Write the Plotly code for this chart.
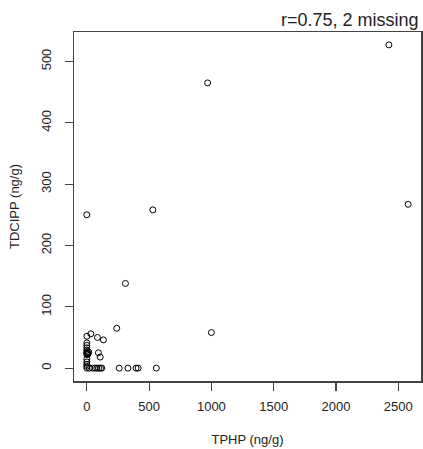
import plotly.graph_objects as go

# TPHP (x) and TDCIPP (y), ng/g
tphp = [2425, 970, 2580, 0, 530, 310, 1000, 240,
        0, 32, 85, 133,
        0, 0, 0, 0, 0, 0, 0, 5, 10, 15,
        93, 107,
        0, 0, 0, 0,
        0, 20, 45, 65, 80, 95, 110, 120,
        260, 330, 395, 412, 558]
tdcipp = [527, 465, 267, 250, 258, 138, 58, 65,
          52, 56, 50, 46,
          41, 37, 33, 29, 26, 24, 22, 25, 23, 26,
          25, 18,
          15, 10, 6, 3,
          0, 0, 0, 0, 0, 0, 0, 0,
          0, 0, 0, 0, 0]

x_ticks = [0, 500, 1000, 1500, 2000, 2500]
y_ticks = [0, 100, 200, 300, 400, 500]
note = "r=0.75, 2 missing"

font_family = "Liberation Sans, Arial, sans-serif"
txt = "#222222"

fig = go.Figure()
fig.add_trace(go.Scatter(
    x=tphp, y=tdcipp, mode="markers",
    marker=dict(symbol="circle-open", size=6, color="black", line=dict(width=1.0, color="black")),
    showlegend=False, hoverinfo="skip"))

fig.update_layout(
    width=423, height=449,
    margin=dict(l=74, r=2, t=32, b=68),
    paper_bgcolor="white", plot_bgcolor="white",
    font=dict(family=font_family, size=13, color=txt),
    xaxis=dict(range=[-103, 2683], tickvals=x_ticks, ticktext=[str(v) for v in x_ticks],
               showgrid=False, zeroline=False, showline=True, mirror=True,
               linecolor="#444444", linewidth=1.5, automargin=False,
               ticks="outside", ticklen=8, tickwidth=1.2, tickcolor="#444444",
               ticklabelstandoff=5,
               tickfont=dict(size=13, color=txt),
               title=dict(text="TPHP (ng/g)", font=dict(size=13, color=txt), standoff=22)),
    yaxis=dict(range=[-21, 548], tickvals=y_ticks, ticktext=[str(v) for v in y_ticks],
               showgrid=False, zeroline=False, showline=True, mirror=True,
               linecolor="#444444", linewidth=1.5, automargin=False,
               ticks="outside", ticklen=8, tickwidth=1.2, tickcolor="#444444",
               tickangle=-90, ticklabelstandoff=8,
               tickfont=dict(size=13, color=txt),
               title=dict(text="TDCIPP (ng/g)", font=dict(size=13, color=txt), standoff=16)),
    annotations=[dict(text=note, xref="paper", yref="paper", x=1.0, y=1.0,
                      xanchor="right", yanchor="bottom", showarrow=False,
                      font=dict(size=18, color=txt, family=font_family))],
)

fig.write_html("out.html", config={"displayModeBar": False, "staticPlot": True},
               post_script="document.body.style.margin='0';document.body.style.overflow='hidden';")
